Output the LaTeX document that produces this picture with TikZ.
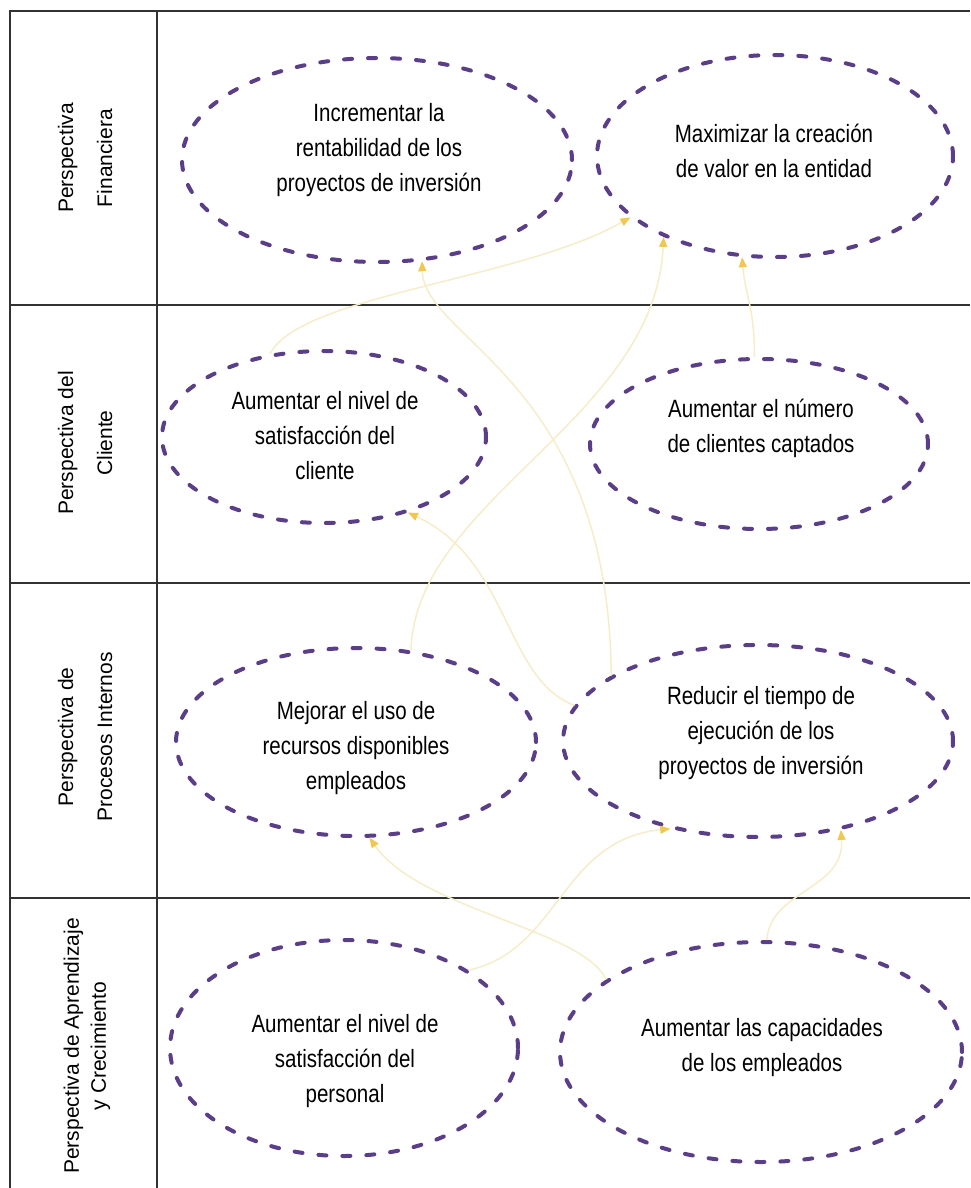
\documentclass[tikz,border=0pt]{standalone}
\usepackage{fontspec}
\setmainfont{Liberation Sans}
\newfontfamily\narrowfont[FakeStretch=0.82]{Liberation Sans}
\usetikzlibrary{arrows.meta,shapes.geometric}
\definecolor{dashpurple}{RGB}{90,62,135}
\definecolor{linkyellow}{RGB}{246,237,202}
\definecolor{tipgold}{RGB}{240,200,80}
\definecolor{gridgray}{RGB}{50,50,50}
\begin{document}
\begin{tikzpicture}[x=1pt,y=-1pt,
  goal/.style={ellipse, draw=dashpurple, line width=4pt, dash pattern=on 8pt off 16pt, line cap=round, inner sep=0pt},
  goaltext/.style={align=center, font=\narrowfont\fontsize{25}{35}\selectfont, inner sep=0pt},
  rowlabel/.style={rotate=90, align=center, inner sep=0pt, font=\fontsize{21}{39}\selectfont},
  rowlabeltight/.style={rowlabel, font=\fontsize{21}{27}\selectfont},
  link/.style={draw=linkyellow, line width=1.5pt, -{Triangle[length=10pt,width=8pt,color=tipgold]}},
  gridline/.style={draw=gridgray, line width=2pt}]
\useasboundingbox (0,0) rectangle (970,1188);
\fill[white] (0,0) rectangle (970,1188);

% table
\coordinate (tl) at (10,11);
\coordinate (tr) at (970,11);
\coordinate (bl) at (10,1188);
\coordinate (cdt) at (157,11);
\coordinate (cdb) at (157,1188);
\coordinate (r1l) at (10,305);  \coordinate (r1r) at (970,305);
\coordinate (r2l) at (10,583);  \coordinate (r2r) at (970,583);
\coordinate (r3l) at (10,898);  \coordinate (r3r) at (970,898);
\draw[gridline] (bl) -- (tl) -- (tr);
\draw[gridline] (cdt) -- (cdb);
\draw[gridline] (r1l) -- (r1r);
\draw[gridline] (r2l) -- (r2r);
\draw[gridline] (r3l) -- (r3r);

% row labels
\node[rowlabel] (l1) at (85,158) {Perspectiva\\Financiera};
\node[rowlabel] (l2) at (85,443) {Perspectiva del\\Cliente};
\node[rowlabel] (l3) at (85,737) {Perspectiva de\\Procesos Internos};
\node[rowlabeltight] (l4) at (87,1046) {Perspectiva de Aprendizaje\\y Crecimiento};

% goals
\node[goal, minimum width=390pt, minimum height=204pt] (e1) at (377,160) {};
\node[goal, minimum width=356pt, minimum height=202pt] (e2) at (775,156) {};
\node[goal, minimum width=324pt, minimum height=172pt] (e3) at (324,437) {};
\node[goal, minimum width=338pt, minimum height=170pt] (e4) at (759,444) {};
\node[goal, minimum width=360pt, minimum height=188pt] (e5) at (356,742) {};
\node[goal, minimum width=390pt, minimum height=192pt] (e6) at (758,741) {};
\node[goal, minimum width=348pt, minimum height=216pt] (e7) at (344,1048) {};
\node[goal, minimum width=402pt, minimum height=220pt] (e8) at (761,1052) {};

\node[goaltext] (t1) at (379,150) {Incrementar la\\rentabilidad de los\\proyectos de inversión};
\node[goaltext] (t2) at (774,151) {Maximizar la creación\\de valor en la entidad};
\node[goaltext] (t3) at (325,436) {Aumentar el nivel de\\satisfacción del\\cliente};
\node[goaltext] (t4) at (761,428) {Aumentar el número\\de clientes captados};
\node[goaltext] (t5) at (356,748) {Mejorar el uso de\\recursos disponibles\\empleados};
\node[goaltext] (t6) at (761,733) {Reducir el tiempo de\\ejecución de los\\proyectos de inversión};
\node[goaltext] (t7) at (345,1061) {Aumentar el nivel de\\satisfacción del\\personal};
\node[goaltext] (t8) at (762,1048) {Aumentar las capacidades\\de los empleados};

% links
\draw[link] (e3.123) .. controls (300,295) and (520,280) .. (e2.203);
\draw[link] (e6.156) .. controls (609,380) and (424,340) .. (e1.294);
\draw[link] (e5.59) .. controls (415,500) and (655,420) .. (e2.216);
\draw[link] (e4.93) .. controls (755,310) and (745,295) .. (e2.252);
\draw[link] (e6.169) .. controls (505,680) and (510,560) .. (e3.318);
\draw[link] (e8.155) .. controls (585,930) and (420,910) .. (e5.278);
\draw[link] (e7.32) .. controls (560,950) and (560,840) .. (e6.225);
\draw[link] (e8.87) .. controls (770,890) and (845,890) .. (e6.313);
\end{tikzpicture}
\end{document}
